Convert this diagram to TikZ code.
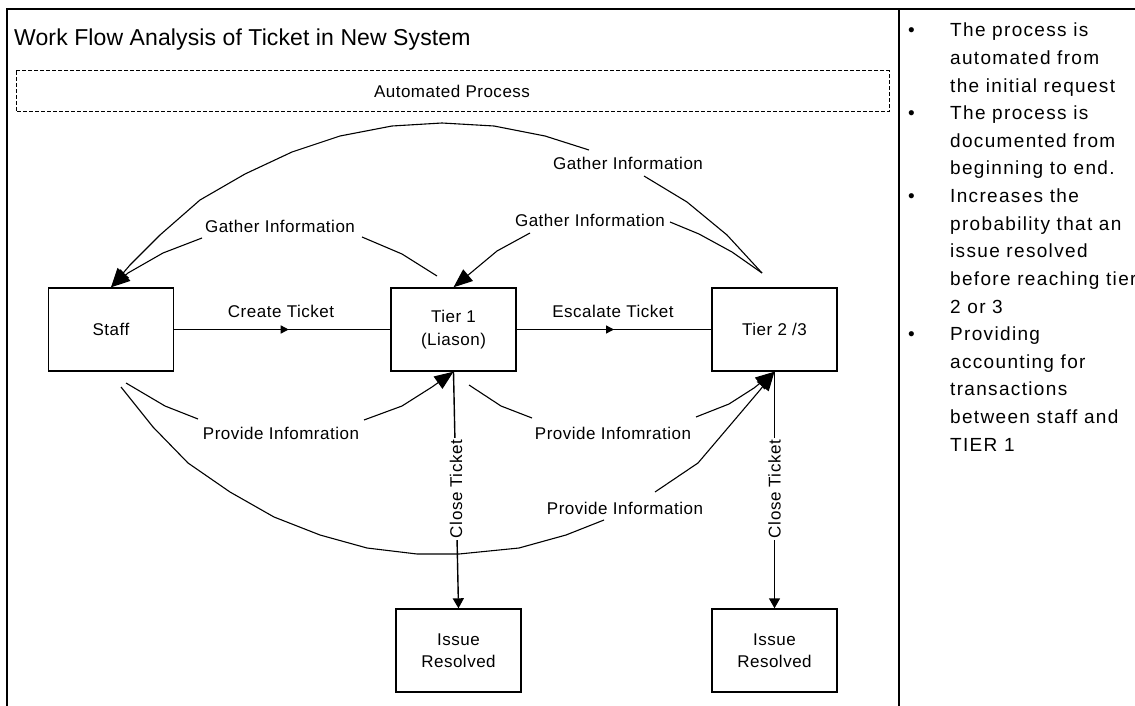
\documentclass[tikz,border=0pt]{standalone}
\usepackage{fontspec}
\setmainfont{Liberation Sans}
\newfontfamily\titlefont[LetterSpace=0.5]{Liberation Sans}
\newfontfamily\lblfont[LetterSpace=3]{Liberation Sans}
\newfontfamily\panelfont[LetterSpace=7]{Liberation Sans}
\usetikzlibrary{arrows.meta,decorations.markings}
\begin{document}
\begin{tikzpicture}[x=1pt,y=-1pt,
  box/.style={draw, line width=1.4pt, minimum width=125pt, minimum height=83pt, inner sep=0pt, align=center, font=\lblfont\fontsize{17}{23}\selectfont},
  lbl/.style={font=\lblfont\fontsize{17}{20}\selectfont, inner sep=0pt},
  conn/.style={line width=1.1pt},
  straight/.style={line width=1.4pt},
  bighead/.style={-{Triangle[length=19pt,width=15pt]}},
  closehead/.style={-{Triangle[length=10pt,width=11pt]}},
  midarrow/.style={decoration={markings, mark=at position #1 with {\arrow{Triangle[length=8pt,width=8pt]}}}, postaction={decorate}},
  paneltext/.style={font=\panelfont\fontsize{19}{22}\selectfont, anchor=base west, inner sep=0pt},
  bulletmark/.style={font=\panelfont\fontsize{19}{22}\selectfont, anchor=base west, inner sep=0pt}
]
\useasboundingbox (0,0) rectangle (1135,706);
% frame
\draw[line width=1.8pt] (7,706) -- (7,9) -- (1135,9);
\draw[line width=1.8pt] (899,9) -- (899,706);
% title
\node[font=\titlefont\fontsize{23}{27}\selectfont, anchor=base west, inner sep=0pt] (title) at (14,46) {Work Flow Analysis of Ticket in New System};
% automated process
\draw[line width=1pt, dash pattern=on 4pt off 2pt] (16,71) rectangle (889,112);
\node[lbl] (auto) at (452,91) {Automated Process};
% boxes
\node[box] (staff) at (111,329.5) {Staff};
\node[box] (tier1) at (453.5,329.5) {Tier 1\\(Liason)};
\node[box] (tier2) at (774.5,329.5) {Tier 2 /3};
\node[box, font=\lblfont\fontsize{17}{22}\selectfont] (issue1) at (458.5,650.5) {Issue\\Resolved};
\node[box, font=\lblfont\fontsize{17}{22}\selectfont] (issue2) at (774.5,650.5) {Issue\\Resolved};
% straight connectors
\draw[straight, midarrow=0.53] (staff) -- (tier1);
\node[lbl] (lcreate) at (281,311) {Create Ticket};
\draw[straight, midarrow=0.5] (tier1) -- (tier2);
\node[lbl] (lescalate) at (613,311) {Escalate Ticket};
\draw[straight, closehead] (tier1.south) -- (issue1.north);
\draw[straight, closehead] (tier2.south) -- (issue2.north);
% start points of curved connectors
\coordinate (g1s) at (437,276);
\coordinate (g2s) at (762,273);
\coordinate (p1s) at (126,383);
\coordinate (p2s) at (469,385);
\coordinate (p3s) at (121,387);
% gather information: tier1 -> staff
\draw[conn] (g1s) -- (402,254) -- (362,237);
\draw[conn, bighead] (202,238) -- (163,253) -- (128,273) -- (staff.north);
\node[lbl] (lg1) at (280,226) {Gather Information};
% gather information: tier2 -> staff (big arc)
\draw[conn] (g2s) -- (727,235) -- (687,202) -- (644,176);
\draw[conn, bighead] (589,150) -- (545,136) -- (494,126) -- (442,123) -- (392,126) -- (340,136) -- (292,152) -- (245,174) -- (200,200) -- (160,235) -- (130,265) -- (staff.north);
\node[lbl] (lg2) at (628,163) {Gather Information};
% gather information: tier2 -> tier1
\draw[conn] (g2s) -- (732,252) -- (699,234) -- (670,222);
\draw[conn, bighead] (530,233) -- (497,251) -- (tier1.north);
\node[lbl] (lg3) at (590,220) {Gather Information};
% provide information: staff -> tier1
\draw[conn] (p1s) -- (165,406) -- (198,419);
\draw[conn, bighead] (364,420) -- (402,406) -- (432,387) -- (tier1.south);
\node[lbl] (lp1) at (281,433) {Provide Infomration};
% provide information: tier1 -> tier2
\draw[conn] (p2s) -- (501,406) -- (532,418);
\draw[conn, bighead] (696,417) -- (729,404) -- (754,388) -- (tier2.south);
\node[lbl] (lp2) at (613,433) {Provide Infomration};
% provide information: staff -> tier2 (big lower arc)
\draw[conn] (p3s) -- (153,427) -- (188,463) -- (230,492) -- (274,517) -- (320,535) -- (367,548) -- (417,554) -- (459,554) -- (519,548) -- (566,535) -- (604,520);
\draw[conn, bighead] (655,492) -- (698,463) -- (732,423) -- (760,390) -- (tier2.south);
\node[lbl] (lp3) at (625,508) {Provide Information};
% close ticket labels
\node[lbl, rotate=90, fill=white, inner sep=2pt] (lclose1) at (456,489) {Close Ticket};
\node[lbl, rotate=90, fill=white, inner sep=2pt] (lclose2) at (774.5,489) {Close Ticket};
% right panel
\node[bulletmark] (b1) at (908,37) {\textbullet};
\node[paneltext] (t1) at (950,37) {The process is};
\node[paneltext] (t2) at (950,64.6) {automated from};
\node[paneltext] (t3) at (950,92.2) {the initial request};
\node[bulletmark] (b2) at (908,119.8) {\textbullet};
\node[paneltext] (t4) at (950,119.8) {The process is};
\node[paneltext] (t5) at (950,147.4) {documented from};
\node[paneltext] (t6) at (950,175) {beginning to end.};
\node[bulletmark] (b3) at (908,202.6) {\textbullet};
\node[paneltext] (t7) at (950,202.6) {Increases the};
\node[paneltext] (t8) at (950,230.2) {probability that an};
\node[paneltext] (t9) at (950,257.8) {issue resolved};
\node[paneltext] (t10) at (950,285.4) {before reaching tier};
\node[paneltext] (t11) at (950,313) {2 or 3};
\node[bulletmark] (b4) at (908,340.6) {\textbullet};
\node[paneltext] (t12) at (950,340.6) {Providing};
\node[paneltext] (t13) at (950,368.2) {accounting for};
\node[paneltext] (t14) at (950,395.8) {transactions};
\node[paneltext] (t15) at (950,423.4) {between staff and};
\node[paneltext] (t16) at (950,451) {TIER 1};
\end{tikzpicture}
\end{document}
